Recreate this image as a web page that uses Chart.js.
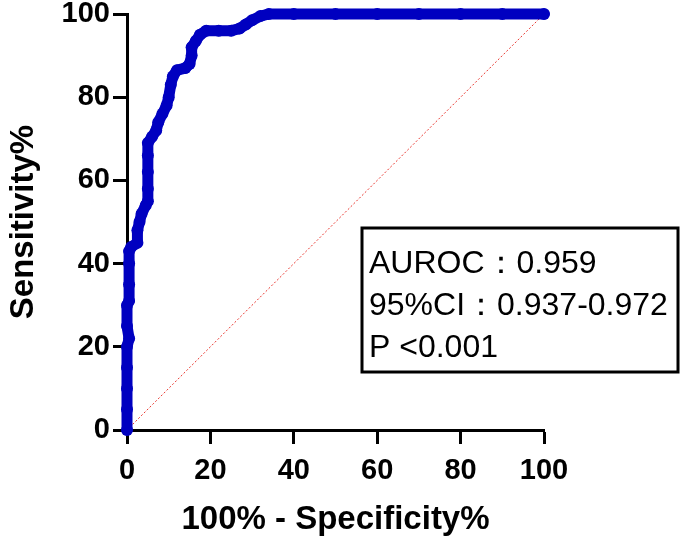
<!DOCTYPE html>
<html>
<head>
<meta charset="utf-8">
<script src="https://cdn.jsdelivr.net/npm/chart.js@4/dist/chart.umd.min.js"></script>
<style>
  body { margin: 0; background: #fff; }
</style>
</head>
<body>
<canvas id="roc" width="685" height="544"></canvas>
<script>
var fpr  = [0, 0, 0, 0, 0, 0.5, 0, 0, 0.5, 0.5, 0.5, 0.5, 1, 2.5, 2.5, 3, 3.5, 4.5, 5, 5, 5, 5, 5, 6, 7, 7.5, 8.5, 9.5, 10, 10.5, 11, 12, 14, 15, 15.5, 15.5, 16.5, 17.5, 19, 22, 25, 27, 28.5, 30, 32, 34, 40, 50, 60, 70, 80, 90, 100];
var sens = [0, 5, 10, 15, 20, 22, 25, 30, 31, 35, 40, 43, 44, 45, 48, 50, 52, 54, 55, 58, 62, 66, 69, 70.5, 72, 74, 76, 78, 80, 83, 85, 86.5, 87, 88, 90, 92, 93.5, 95, 96, 96, 96, 96.5, 97.5, 98.5, 99.5, 100, 100, 100, 100, 100, 100, 100, 100];
var reference = [0, 100];
var xTicks = [0, 20, 40, 60, 80, 100];
var yTicks = [0, 20, 40, 60, 80, 100];
var stats = ['AUROC：0.959', '95%CI：0.937-0.972', 'P <0.001'];

var police = '"Liberation Sans", Arial, sans-serif';
var bleu = '#0000c0';

var rocPoints = fpr.map(function (x, i) { return { x: x, y: sens[i] }; });
var refPoints = reference.map(function (v) { return { x: v, y: v }; });

// boite de texte avec l'AUROC
var boiteStats = {
    id: 'boiteStats',
    afterDraw: function (chart) {
        var c = chart.ctx;
        var a = chart.chartArea;
        var left = a.left + 235, top = a.top + 214, w = 316, h = 144;
        c.save();
        c.strokeStyle = '#000';
        c.lineWidth = 3;
        c.strokeRect(left, top, w, h);
        c.fillStyle = '#000';
        c.font = '32px ' + police;
        c.textBaseline = 'middle';
        stats.forEach(function (t, i) {
            c.fillText(t, left + 7, top + 36 + i * 42);
        });
        c.restore();
    }
};

var axe = function (ticks, titre) {
    return {
        type: 'linear',
        min: 0,
        max: 100,
        afterBuildTicks: function (s) { s.ticks = ticks.map(function (v) { return { value: v }; }); },
        border: { display: true, color: '#000', width: 3 },
        grid: { drawOnChartArea: false, drawTicks: true, tickLength: 14, tickWidth: 3, tickColor: '#000' },
        ticks: { color: '#000', font: { family: police, size: 29, weight: 'bold' }, padding: 3 },
        title: { display: true, text: titre, color: '#000', font: { family: police, size: 33, weight: 'bold' } }
    };
};

var scaleX = axe(xTicks, '100% - Specificity%');
scaleX.ticks.padding = 10;
scaleX.afterFit = function (s) { s.height = 114; s.paddingLeft = 0; s.paddingRight = 0; };
var scaleY = axe(yTicks, 'Sensitivity%');
scaleY.afterFit = function (s) { s.width = 127; s.paddingTop = 0; s.paddingBottom = 0; };

var ctx = document.getElementById('roc').getContext('2d');
var myChart = new Chart(ctx, {
    type: 'scatter',
    data: {
        datasets: [{
            data: refPoints,
            showLine: true,
            borderColor: '#e8352e',
            borderWidth: 1,
            borderDash: [2, 2],
            pointRadius: 0,
            clip: false,
            order: 2
        }, {
            data: rocPoints,
            showLine: true,
            borderColor: bleu,
            backgroundColor: bleu,
            borderWidth: 11,
            borderJoinStyle: 'round',
            borderCapStyle: 'round',
            pointRadius: 6,
            pointBorderWidth: 0,
            clip: false,
            order: 1
        }]
    },
    options: {
        responsive: false,
        animation: false,
        devicePixelRatio: 1,
        layout: { padding: { top: 14, right: 141, left: 0, bottom: 0 } },
        plugins: { legend: { display: false }, tooltip: { enabled: false } },
        scales: { x: scaleX, y: scaleY }
    },
    plugins: [boiteStats]
});
</script>
</body>
</html>
